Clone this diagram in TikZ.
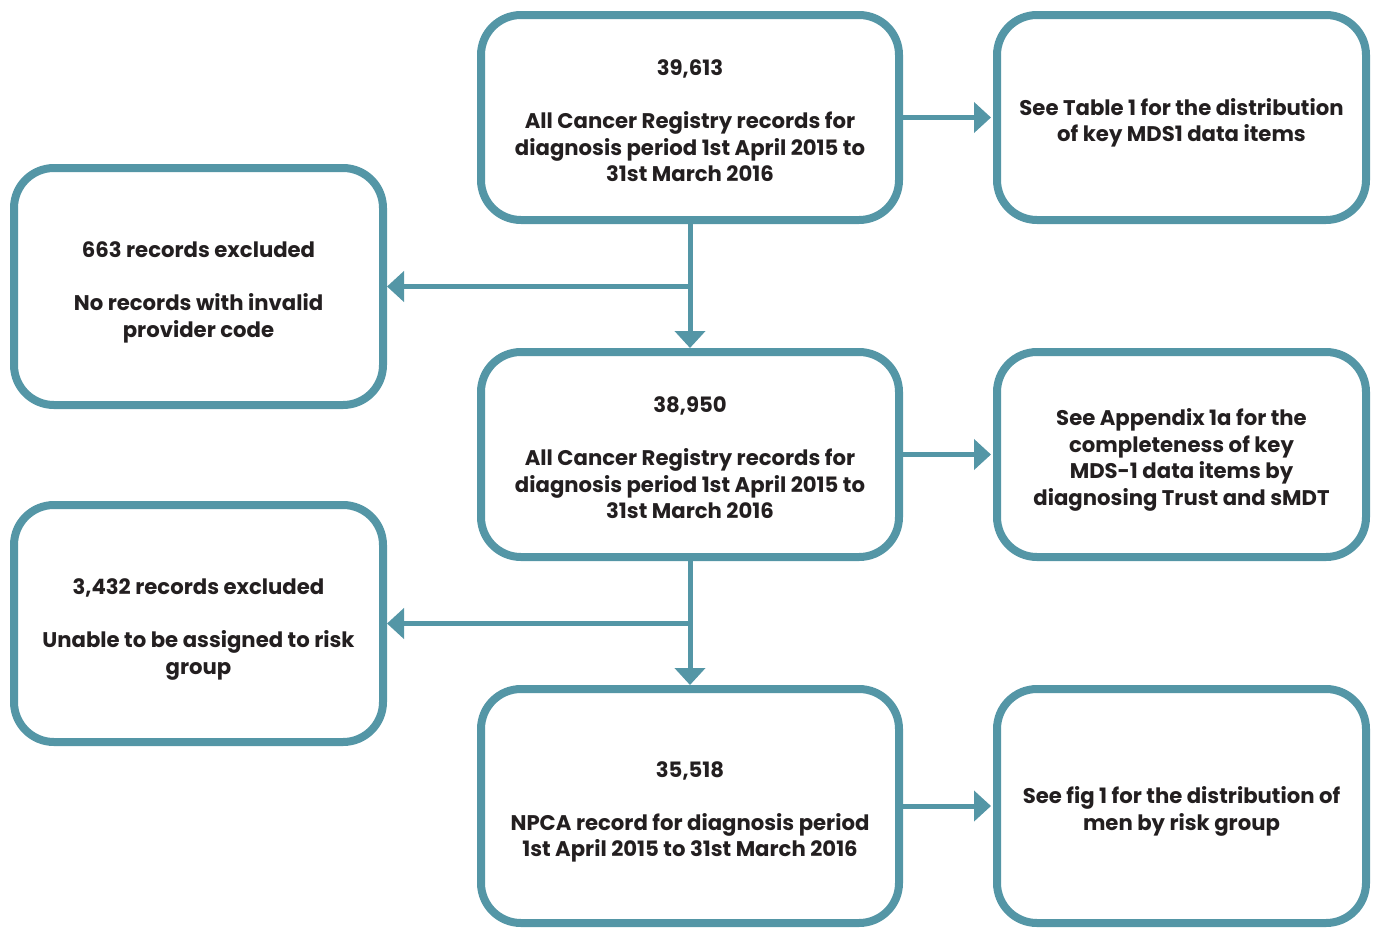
\documentclass[tikz,border=0pt]{standalone}
\usepackage{fontspec}
\setmainfont{Poppins}
\usepackage{tikz}
\usetikzlibrary{arrows.meta}
\definecolor{teal}{RGB}{84,150,166}
\definecolor{ink}{RGB}{35,31,32}
\tikzstyle{box} = [draw=teal, line width=8pt, rounded corners=40pt, fill=white,
  align=center, text=ink, font=\bfseries\fontsize{21.2}{26.5}\selectfont, inner sep=0pt,
  text depth=0pt]
\tikzstyle{line} = [draw=teal, line width=5pt, -{Triangle[length=17pt,width=30pt]}]
\newcommand{\topgap}{\rule{0pt}{22pt}}

\begin{document}
\begin{tikzpicture}[x=1pt, y=-1pt]
            \useasboundingbox (0,0) rectangle (1378,927);
                % centre column
                \node [box, minimum width=418pt, minimum height=205pt] (all) at (690,117.5)
                    {\topgap 39,613\\[26.5pt]All Cancer Registry records for\\diagnosis period 1st April 2015 to\\31st March 2016};
                \node [box, minimum width=418pt, minimum height=205pt] (valid) at (690,454.5)
                    {\topgap 38,950\\[26.5pt]All Cancer Registry records for\\diagnosis period 1st April 2015 to\\31st March 2016};
                \node [box, minimum width=418pt, minimum height=234pt] (npca) at (690,806)
                    {\topgap 35,518\\[26.5pt]NPCA record for diagnosis period\\1st April 2015 to 31st March 2016};
                % exclusions
                \node [box, minimum width=369pt, minimum height=237pt] (excl1) at (198.5,286.5)
                    {\topgap 663 records excluded\\[26.5pt]No records with invalid\\provider code};
                \node [box, minimum width=369pt, minimum height=237pt] (excl2) at (198.5,623.5)
                    {\topgap 3,432 records excluded\\[26.5pt]Unable to be assigned to risk\\group};
                % references
                \node [box, minimum width=369pt, minimum height=205pt] (tab1) at (1181.5,117.5)
                    {\topgap See Table 1 for the distribution\\of key MDS1 data items};
                \node [box, minimum width=369pt, minimum height=205pt] (app1a) at (1181.5,454.5)
                    {\topgap See Appendix 1a for the\\completeness of key\\MDS-1 data items by\\diagnosing Trust and sMDT};
                \node [box, minimum width=369pt, minimum height=234pt] (fig1) at (1181.5,806)
                    {\topgap See fig 1 for the distribution of\\men by risk group};
                % arrows
                \path [line] (all.south) -- (valid.north);
                \path [line] (valid.south) -- (npca.north);
                \path [line] (all.south |- excl1.east) -- (excl1.east);
                \path [line] (valid.south |- excl2.east) -- (excl2.east);
                \path [line, shorten >=2pt] (all.east) -- (tab1.west);
                \path [line, shorten >=2pt] (valid.east) -- (app1a.west);
                \path [line, shorten >=2pt] (npca.east) -- (fig1.west);
            \end{tikzpicture}
\end{document}
